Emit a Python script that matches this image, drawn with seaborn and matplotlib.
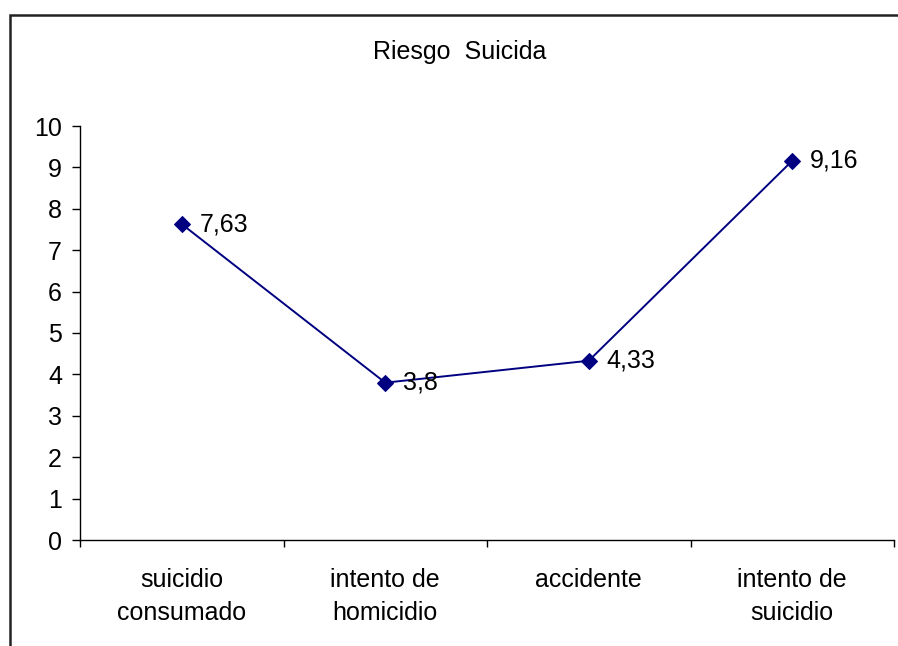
import matplotlib
matplotlib.use("Agg")
import matplotlib.pyplot as plt
import seaborn as sns
import pandas as pd
from matplotlib.patches import Rectangle
from matplotlib.ticker import FixedLocator, MultipleLocator

# Data
categorias = ["suicidio\nconsumado", "intento de\nhomicidio", "accidente", "intento de\nsuicidio"]
riesgo = [7.63, 3.8, 4.33, 9.16]
etiquetas = ["7,63", "3,8", "4,33", "9,16"]

df = pd.DataFrame({"categoria": categorias, "riesgo": riesgo})

sns.set_style("white")
plt.rcParams['font.family'] = ['Liberation Sans', 'DejaVu Sans']
plt.rcParams['text.color'] = 'black'
plt.rcParams['xtick.color'] = 'black'
plt.rcParams['ytick.color'] = 'black'

fig = plt.figure(figsize=(8.98, 6.46), dpi=100)
ax = fig.add_axes([80 / 898, 1 - 540 / 646, (894 - 80) / 898, (540 - 126) / 646])

sns.lineplot(data=df, x="categoria", y="riesgo", marker="D", markersize=8,
             color="#000080", linewidth=1.4, markeredgecolor="#000080",
             sort=False, ax=ax)

for i, (v, t) in enumerate(zip(riesgo, etiquetas)):
    ax.annotate(t, (i, v), xytext=(13, 0), textcoords="offset points",
                ha="left", va="center", fontsize=18, color="black")

ax.set_xlim(-0.5, len(categorias) - 0.5)
ax.set_ylim(0, 10)
ax.yaxis.set_major_locator(MultipleLocator(1))
ax.set_xlabel("")
ax.set_ylabel("")

ax.xaxis.set_minor_locator(FixedLocator([i - 0.5 for i in range(len(categorias) + 1)]))
ax.tick_params(axis="x", which="major", bottom=True, length=0, pad=20, labelsize=18)
ax.tick_params(axis="x", which="minor", bottom=True, length=5, width=1, color="black", direction="out")
ax.tick_params(axis="y", which="major", left=True, length=6, width=1, color="black",
               direction="out", pad=7, labelsize=18)
for lbl in ax.get_xticklabels():
    lbl.set_linespacing(1.5)

for side in ["top", "right"]:
    ax.spines[side].set_visible(False)
for side in ["left", "bottom"]:
    ax.spines[side].set_color("black")
    ax.spines[side].set_linewidth(1)

fig.text(460 / 898, 1 - 52 / 646, "Riesgo  Suicida", ha="center", va="center", fontsize=18)

# outer chart border (right and bottom edges fall outside the image)
fig.patches.append(Rectangle((10 / 898, -0.1), 1.2, 1 - 15 / 646 + 0.1,
                             transform=fig.transFigure, fill=False,
                             edgecolor="#222222", linewidth=1.8))

fig.savefig("out.png", dpi=100)
